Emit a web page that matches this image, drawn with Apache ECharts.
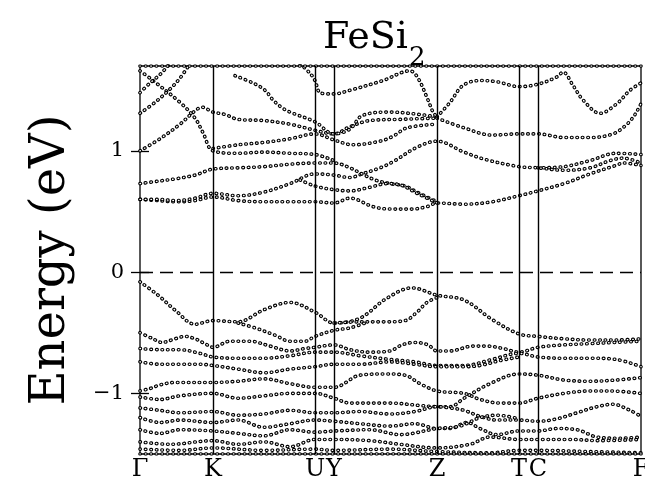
<!DOCTYPE html>
<html>
<head>
<meta charset="utf-8">
<script src="https://cdn.jsdelivr.net/npm/echarts@6/dist/echarts.min.js"></script>
<style>
  html, body { margin: 0; padding: 0; background: #fff; }
  #chart { width: 645px; height: 485px; }
</style>
</head>
<body>
<div id="chart"></div>
<script>
// k-path: distance along the path, high-symmetry points
const kPos = [0, 73, 175, 194, 297, 379, 398, 501];
const kLabels = ['Γ', 'K', 'U', 'Y', 'Z', 'T', 'C', 'F'];
const eTicks = [-1, 0, 1];

// conduction bands, [k, E(eV)]
const c1 = [[0,0.60],[18,0.59],[36,0.58],[55,0.59],[73,0.62],[98,0.59],[124,0.58],[150,0.58],[175,0.58],[194,0.57],[210,0.61],[233,0.54],[250,0.52],[272,0.52],[287,0.54],[297,0.57],[324,0.56],[352,0.58],[379,0.63],[398,0.67],[424,0.73],[450,0.81],[476,0.88],[483,0.90],[501,0.88]];
const c2 = [[0,0.60],[18,0.60],[36,0.59],[55,0.61],[73,0.65],[98,0.63],[124,0.66],[150,0.73],[175,0.81],[194,0.80],[210,0.78],[222,0.81],[240,0.86],[253,0.91],[277,1.03],[297,1.08],[324,0.99],[345,0.93],[379,0.87],[398,0.86],[424,0.84],[450,0.86],[470,0.92],[483,0.94],[501,0.90]];
const c3 = [[0,0.73],[18,0.75],[36,0.77],[55,0.80],[73,0.85],[98,0.86],[124,0.87],[150,0.89],[175,0.90],[194,0.90],[210,0.86],[222,0.81],[235,0.76],[250,0.73],[265,0.71],[277,0.66],[297,0.58]];
const c3b = [[160,0.76],[175,0.71],[194,0.68],[210,0.67],[230,0.70],[247,0.73],[260,0.72],[277,0.65],[297,0.57]];
const c2b = [[398,0.86],[424,0.87],[450,0.92],[476,0.98],[501,0.97]];
const c4 = [[0,1.00],[20,1.10],[40,1.22],[55,1.33],[62,1.36],[73,1.32],[85,1.30],[98,1.26],[124,1.25],[150,1.22],[175,1.17],[194,1.14],[210,1.20],[230,1.25],[260,1.26],[297,1.27]];
const c5 = [[73,1.02],[98,1.05],[124,1.07],[150,1.10],[175,1.14],[194,1.09],[213,1.05],[240,1.08],[253,1.12],[267,1.19],[297,1.22]];
const c6 = [[0,1.66],[13,1.58],[40,1.40],[55,1.27],[63,1.15],[73,1.00],[98,0.98],[124,0.99],[150,0.98],[175,0.97],[194,0.92]];
const c7 = [[95,1.62],[113,1.56],[125,1.50],[133,1.42],[143,1.35],[153,1.31],[175,1.24],[194,1.14],[210,1.18],[222,1.29],[250,1.32],[280,1.30],[297,1.28]];
const c8 = [[160,1.72],[170,1.64],[175,1.58],[180,1.48],[190,1.47],[194,1.47],[210,1.50],[243,1.58],[270,1.66],[278,1.60],[288,1.42],[293,1.32],[297,1.28]];
const c9 = [[297,1.28],[310,1.40],[323,1.54],[340,1.58],[357,1.57],[379,1.53],[398,1.55],[417,1.61],[423,1.65],[433,1.54],[443,1.42],[460,1.31],[477,1.39],[490,1.50],[501,1.56]];
const c10 = [[297,1.27],[324,1.19],[352,1.13],[379,1.14],[398,1.14],[424,1.11],[450,1.11],[473,1.14],[487,1.22],[495,1.30],[501,1.39]];
const c11 = [[0,1.31],[15,1.40],[30,1.51],[40,1.60],[50,1.72]];
const c12 = [[0,1.48],[10,1.56],[20,1.63],[30,1.72]];

// valence bands
const v1 = [[0,-0.08],[18,-0.19],[36,-0.32],[55,-0.43],[73,-0.40],[98,-0.41],[124,-0.31],[150,-0.25],[175,-0.33],[194,-0.42],[220,-0.38],[246,-0.22],[272,-0.13],[297,-0.19],[324,-0.23],[352,-0.39],[379,-0.51],[398,-0.53],[424,-0.55],[450,-0.56],[476,-0.56],[501,-0.55]];
const v2 = [[194,-0.42],[220,-0.41],[246,-0.41],[265,-0.40],[277,-0.33],[287,-0.25],[297,-0.21]];
const v2a = [[98,-0.42],[115,-0.46],[135,-0.52],[150,-0.57],[165,-0.57],[175,-0.53],[194,-0.48],[210,-0.46],[225,-0.42]];
const v3 = [[0,-0.50],[13,-0.55],[22,-0.58],[35,-0.55],[45,-0.53],[55,-0.55],[65,-0.59],[73,-0.62],[90,-0.57],[110,-0.57],[130,-0.61],[150,-0.65],[165,-0.63],[175,-0.62],[194,-0.60],[210,-0.64],[230,-0.66],[250,-0.65],[262,-0.60],[275,-0.58],[288,-0.60],[297,-0.65],[310,-0.65],[333,-0.61],[347,-0.61],[363,-0.63],[379,-0.66],[398,-0.62],[424,-0.60],[450,-0.59],[476,-0.58],[501,-0.57]];
const v4 = [[0,-0.63],[20,-0.64],[40,-0.64],[60,-0.67],[73,-0.70],[98,-0.71],[124,-0.71],[150,-0.69],[175,-0.66],[194,-0.66],[220,-0.69],[250,-0.72],[275,-0.74],[297,-0.77],[324,-0.77],[352,-0.72],[379,-0.67],[398,-0.70],[424,-0.71],[450,-0.71],[476,-0.72],[501,-0.78]];
const v5 = [[0,-0.74],[20,-0.76],[40,-0.76],[60,-0.76],[73,-0.77],[98,-0.80],[124,-0.83],[150,-0.80],[175,-0.78],[194,-0.76],[220,-0.76],[250,-0.74],[275,-0.76],[297,-0.78],[324,-0.78],[340,-0.77],[360,-0.73],[379,-0.70]];
const v6 = [[0,-0.98],[10,-0.96],[20,-0.93],[35,-0.91],[73,-0.91],[98,-0.90],[124,-0.88],[150,-0.92],[175,-0.95],[194,-0.95],[220,-0.85],[246,-0.84],[265,-0.85],[280,-0.92],[297,-0.98],[324,-1.00],[340,-1.05],[360,-1.08],[379,-1.08],[398,-1.04],[424,-1.00],[450,-0.98],[470,-0.98],[501,-1.00]];
const v7 = [[0,-1.03],[20,-1.05],[40,-1.02],[73,-1.00],[98,-1.04],[124,-1.02],[150,-1.00],[175,-1.00],[194,-1.04],[210,-1.08],[250,-1.08],[280,-1.10],[297,-1.11],[310,-1.11],[324,-1.04],[350,-0.92],[379,-0.84],[398,-0.85],[424,-0.89],[450,-0.90],[476,-0.89],[501,-0.87]];
const v8 = [[0,-1.12],[20,-1.14],[40,-1.16],[73,-1.15],[98,-1.18],[124,-1.17],[150,-1.14],[175,-1.16],[194,-1.16],[220,-1.15],[250,-1.17],[275,-1.15],[297,-1.11],[310,-1.12],[324,-1.14],[340,-1.19],[357,-1.22],[379,-1.22],[398,-1.23],[417,-1.21],[437,-1.16],[457,-1.11],[473,-1.09],[490,-1.14],[501,-1.19]];
const v9 = [[0,-1.20],[20,-1.24],[40,-1.22],[73,-1.24],[98,-1.22],[124,-1.28],[150,-1.25],[175,-1.22],[194,-1.23],[220,-1.25],[250,-1.27],[275,-1.25],[297,-1.29],[310,-1.29],[327,-1.24],[340,-1.29],[357,-1.34],[379,-1.31],[398,-1.31],[417,-1.29],[437,-1.30],[457,-1.36],[480,-1.37],[501,-1.36]];
const v10 = [[0,-1.30],[20,-1.33],[40,-1.30],[73,-1.31],[98,-1.33],[124,-1.35],[150,-1.30],[175,-1.32],[194,-1.31],[230,-1.30],[260,-1.34],[297,-1.29],[320,-1.27],[340,-1.20],[357,-1.18],[379,-1.21]];
const v11 = [[0,-1.40],[30,-1.42],[73,-1.39],[98,-1.42],[124,-1.40],[150,-1.44],[175,-1.38],[194,-1.38],[230,-1.39],[260,-1.42],[297,-1.45],[330,-1.42],[350,-1.36],[379,-1.38],[398,-1.38],[430,-1.38],[460,-1.39],[501,-1.38]];
const v12 = [[0,-1.46],[40,-1.47],[73,-1.45],[124,-1.47],[175,-1.46],[194,-1.47],[250,-1.46],[297,-1.48],[350,-1.49],[379,-1.47],[398,-1.47],[450,-1.48],[501,-1.49]];

// bands running past the window, piled on its edges
const clampTop = [[0,1.7],[501,1.7]];
const clampBottom = [[0,-1.5],[501,-1.5]];

const bands = [c1, c2, c3, c3b, c2b, c4, c5, c6, c7, c8, c9, c10, c11, c12,
  v1, v2, v2a, v3, v4, v5, v6, v7, v8, v9, v10, v11, v12, clampTop, clampBottom];

const serif = 'DejaVu Serif';
const dash = [0.5, 5];

// each band: black dots, then white centres on the same dash -> small open circles
const series = [];
bands.forEach((data) => {
  const base = { type: 'line', data, smooth: 0.35, showSymbol: false, silent: true };
  series.push({ ...base, lineStyle: { color: '#000', width: 3.6, type: dash, cap: 'round' } });
  series.push({ ...base, lineStyle: { color: '#fff', width: 1.4, type: dash, cap: 'round' } });
});

series.push({
  type: 'line',
  data: [],
  silent: true,
  markLine: {
    symbol: ['none', 'none'],
    silent: true,
    label: { show: false },
    lineStyle: { color: '#000', width: 1.4, type: 'solid' },
    data: [
      ...kPos.slice(1, -1).map((k) => ({ xAxis: k })),
      { yAxis: 0, lineStyle: { type: [13, 7], width: 1.3 } },
    ],
  },
});

const chart = echarts.init(document.getElementById('chart'));
chart.setOption({
  animation: false,
  title: {
    text: '{a|FeSi}{b|2}',
    left: 318,
    top: 8,
    textStyle: {
      fontWeight: 'normal',
      rich: {
        a: { fontFamily: serif, fontSize: 38, fontWeight: 'normal', color: '#000', verticalAlign: 'bottom', lineHeight: 44 },
        b: { fontFamily: serif, fontSize: 26, fontWeight: 'normal', color: '#000', verticalAlign: 'bottom', lineHeight: 44, padding: [0, 0, -14, 1] },
      },
    },
  },
  grid: {
    left: 140, right: 4, top: 66, bottom: 31,
    outerBoundsMode: 'none',
    containLabel: false,
    show: true, borderColor: '#000', borderWidth: 1.3,
  },
  xAxis: {
    type: 'value',
    min: 0,
    max: 501,
    axisLine: { show: false },
    axisTick: { show: false },
    splitLine: { show: false },
    axisLabel: {
      customValues: kPos,
      formatter: (v) => kLabels[kPos.indexOf(v)],
      fontFamily: serif,
      fontSize: 24,
      color: '#000',
      margin: 4,
      hideOverlap: false,
    },
  },
  yAxis: [
    {
      type: 'value',
      min: -1.5,
      max: 1.7,
      axisLine: { show: false },
      splitLine: { show: false },
      axisTick: { show: true, customValues: eTicks, length: 9, lineStyle: { color: '#000', width: 1.3 } },
      axisLabel: {
        customValues: eTicks,
        formatter: (v) => (v < 0 ? '−' + -v : String(v)),
        fontFamily: serif,
        fontSize: 21,
        color: '#000',
        margin: 16,
      },
      name: 'Energy (eV)',
      nameLocation: 'middle',
      nameGap: 64,
      nameTextStyle: { fontFamily: serif, fontSize: 48, color: '#000' },
    },
    {
      type: 'value',
      min: -1.5,
      max: 1.7,
      position: 'left',
      axisLine: { show: false },
      splitLine: { show: false },
      axisLabel: { show: false },
      axisTick: { show: true, inside: true, customValues: eTicks, length: 9, lineStyle: { color: '#000', width: 1.3 } },
    },
  ],
  series,
});
</script>
</body>
</html>
